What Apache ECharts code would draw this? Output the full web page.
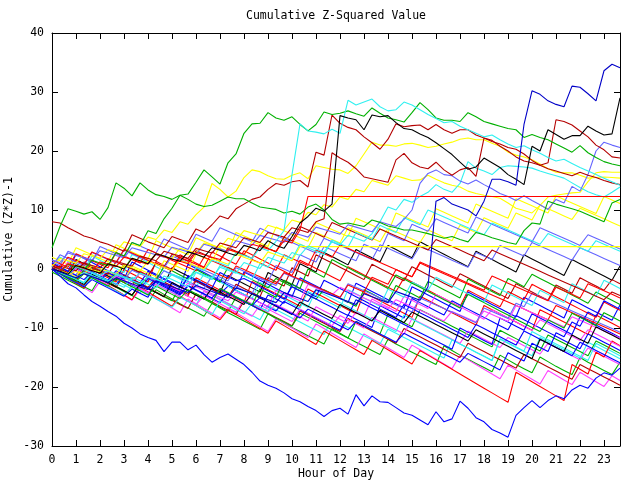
<!DOCTYPE html>
<html>
<head>
<meta charset="utf-8">
<script src="https://cdn.jsdelivr.net/npm/echarts@6/dist/echarts.min.js"></script>
<style>html,body{margin:0;padding:0;background:#fff}#c{width:640px;height:480px}</style>
</head>
<body>
<div id="c"></div>
<script>
// x grid: 72 samples, every 20 minutes from hour 0
const stepsPerHour = 3;
const nSteps = 72;
const hours = Array.from({length: nSteps}, (_, i) => i / stepsPerHour);
const yTicks = [-30, -20, -10, 0, 10, 20, 30, 40];

const n1 = [0,-0.7,-1.4, -2.0,1.2,0.5, -0.2,-0.9,-1.6, -2.3,-3.0,-0.4, -1.1,-1.8,-2.5, -3.2,-3.9,-4.6, -1.5,-2.2,-2.9, -3.6,-4.3,-5.0, -5.7,-2.1,-2.8, -3.5,-4.2,-4.9, -5.6,-6.3,-3.4, -4.1,-4.8,-5.5, -6.2,-6.9,-7.6, -4.0,-4.7,-5.4, -6.1,-6.8,-7.5, -8.2,-4.6,-5.3, -6.0,-6.7,-7.4, -8.1,-8.8,-9.5, -6.2,-6.9,-7.6, -8.3,-9.0,-9.7, -10.4,-6.9,-7.6, -8.3,-9.0,-9.7, -10.4,-11.1,-7.8, -8.5,-9.2,-9.9];
const n2 = [0,-0.8,-1.6, -2.3,-3.0,-3.7, -1.4,-2.1,-2.9, -3.7,-4.5,-5.2, -5.9,-3.5,-4.3, -5.1,-5.9,-6.6, -7.3,-8.0,-5.8, -6.6,-7.4,-8.1, -8.8,-9.5,-10.2, -7.6,-8.4,-9.2, -9.9,-10.6,-11.3, -12.0,-12.7,-10.1, -10.9,-11.7,-12.4, -13.1,-13.8,-14.5, -11.9,-12.7,-13.4, -14.1,-14.8,-15.5, -16.2,-13.0,-13.8, -14.6,-15.3,-16.0, -16.7,-17.4,-14.6, -15.4,-16.2,-16.9, -17.6,-14.9,-15.7, -16.5,-17.2,-17.9, -15.0,-15.8,-16.5, -17.2,-17.9,-15.8];
const n3 = [1.0,0.3,-0.4, 2.5,1.8,1.1, 0.4,-0.3,-1.0, -1.7,1.2,0.5, -0.2,-0.9,-1.6, -2.3,-3.0,0.8, 0.1,-0.6,-1.3, -2.0,-2.7,-3.4, -0.5,-1.2,-1.9, -2.6,-3.3,-4.0, -4.7,-1.5,-2.2, -2.9,-3.6,-4.3, -5.0,-5.7,-2.4, -3.1,-3.8,-4.5, -5.2,-5.9,-6.6, -3.0,-3.7,-4.4, -5.1,-5.8,-6.5, -7.2,-3.9,-4.6, -5.3,-6.0,-6.7, -7.4,-8.1,-4.8, -5.5,-6.2,-6.9, -7.6,-8.3,-5.2, -5.9,-6.6,-7.3, -8.0,-8.7,-6.1];
const n4 = [0,-0.8,-1.6, -2.4,-3.2,-4.0, -2.1,-2.9,-3.7, -4.5,-5.3,-3.4, -4.2,-5.0,-5.8, -6.6,-7.4,-5.1, -5.9,-6.7,-7.5, -8.3,-6.6,-7.4, -8.2,-9.0,-9.8, -10.6,-8.4,-9.2, -10.0,-10.8,-11.6, -9.3,-10.1,-10.9, -11.7,-12.5,-13.3, -11.0,-11.8,-12.6, -13.4,-14.2,-15.0, -12.9,-13.7,-14.5, -15.3,-16.1,-16.9, -14.6,-15.4,-16.2, -17.0,-17.8,-18.6, -16.3,-17.1,-17.9, -18.7,-19.5,-17.2, -18.0,-18.8,-19.6, -17.5,-18.3,-19.1, -19.9,-18.1,-18.9];
const n5 = [0.5,-0.2,-0.9, -1.6,-2.3,0.1, -0.6,-1.3,-2.0, -2.7,-3.4,-4.1, -1.9,-2.6,-3.3, -4.0,-4.7,-5.4, -6.1,-3.7,-4.4, -5.1,-5.8,-6.5, -7.2,-7.9,-8.6, -6.2,-6.9,-7.6, -8.3,-9.0,-9.7, -10.4,-11.1,-8.5, -9.2,-9.9,-10.6, -11.3,-12.0,-12.7, -10.2,-10.9,-11.6, -12.3,-13.0,-13.7, -14.4,-15.1,-12.0, -12.7,-13.4,-14.1, -14.8,-15.5,-11.9, -12.6,-13.3,-14.0, -14.7,-11.6,-12.3, -13.0,-13.7,-14.4, -15.1,-12.4,-13.1, -13.8,-14.5,-15.2];
const n6 = [0,-0.7,-1.4, -2.1,-2.8,-0.9, -1.6,-2.3,-3.0, -3.7,-4.4,-2.5, -3.2,-3.9,-4.6, -5.3,-6.0,-6.7, -4.2,-4.9,-5.6, -6.3,-7.0,-7.7, -5.4,-6.1,-6.8, -7.5,-8.2,-8.9, -9.6,-7.1,-7.8, -8.5,-9.2,-9.9, -10.6,-8.4,-9.1, -9.8,-10.5,-11.2, -11.9,-12.6,-10.1, -10.8,-11.5,-12.2, -12.9,-13.6,-14.3, -15.0,-12.6,-13.3, -14.0,-14.7,-15.4, -16.1,-16.8,-14.5, -15.2,-15.9,-16.6, -17.3,-18.0,-18.7, -16.2,-16.9,-17.6, -18.3,-19.0,-19.7];
const n7 = [2.0,1.4,0.8, 3.6,3.0,2.4, 1.8,1.2,4.1, 3.5,2.9,2.3, 1.7,4.8,4.2, 3.6,3.0,2.4, 5.3,4.7,4.1, 3.5,2.9,6.2, 5.6,5.0,4.4, 3.8,7.1,6.5, 5.9,5.3,4.7, 7.9,7.3,6.7, 6.1,5.5,8.6, 8.0,7.4,6.8, 6.2,9.5,8.9, 8.3,7.7,7.1, 10.2,9.6,9.0, 8.4,7.8,11.0, 10.4,9.8,9.2, 8.6,11.9,11.3, 10.7,10.1,9.5, 12.4,11.8,11.2, 10.6,10.0,9.4, 12.3,11.7,11.1];
const n8 = [0.3,-0.4,-1.1, 1.6,0.9,0.2, -0.5,-1.2,-1.9, 0.8,0.1,-0.6, -1.3,-2.0,-2.7, 0.2,-0.5,-1.2, -1.9,-2.6,-3.3, -4.0,-1.1,-1.8, -2.5,-3.2,-3.9, -0.6,-1.3,-2.0, -2.7,0.9,0.2, -0.5,2.8,2.1, 1.4,0.7,3.3, 2.6,1.9,1.2, 4.0,3.3,2.6, 1.9,4.6,3.9, 3.2,2.5,1.8, 1.1,0.4,3.0, 2.3,1.6,0.9, 0.2,-0.5,2.4, 1.7,1.0,0.3, -0.4,-1.1,1.6, 0.9,0.2,-0.5, -1.2,-1.9,0.5];
const n9 = [1.2,0.6,3.0, 2.4,1.8,1.2, 3.8,3.2,2.6, 2.0,4.5,3.9, 3.3,2.7,5.1, 4.5,3.9,3.3, 5.9,5.3,4.7, 7.0,6.4,5.8, 5.2,4.6,6.9, 6.3,5.7,5.1, 4.5,3.9,3.3, 2.7,5.2,4.6, 4.0,3.4,2.8, 2.2,1.6,4.1, 3.5,2.9,2.3, 1.7,3.9,3.3, 2.7,2.1,1.5, 0.9,0.3,2.8, 2.2,1.6,4.0, 3.4,2.8,2.2, 4.5,3.9,3.3, 2.7,2.1,1.5, 3.6,3.0,2.4, 1.8,1.2,0.6];
const n10 = [0,-0.7,-1.4, -2.1,0.6,-0.1, -0.8,-1.5,-2.2, -0.1,-0.8,-1.5, -2.2,1.3,0.6, -0.1,2.4,1.7, 1.0,0.3,2.9, 2.2,1.5,0.8, 3.1,2.4,1.7, 1.0,0.3,-0.4, -1.1,1.5,0.8, 0.1,-0.6,-1.3, -2.0,0.4,-0.3, -1.0,-1.7,-2.4, -3.1,-3.8,-1.5, -2.2,-2.9,-3.6, -4.3,-5.0,-5.7, -6.4,-3.6,-4.3, -5.0,-5.7,-6.4, -3.8,-4.5,-5.2, -2.6,-3.3,-4.0, -4.7,-5.4,-6.1, -6.8,-7.5,-8.2, -5.6,-6.3,-7.0];
const n11 = [-0.5,-1.2,-1.9, -2.6,-3.3,-1.0, -1.7,-2.4,-3.1, -3.8,-4.5,-2.6, -3.3,-4.0,-4.7, -5.4,-3.0,-3.7, -4.4,-5.1,-5.8, -6.5,-7.2,-4.8, -5.5,-6.2,-6.9, -7.6,-8.3,-9.0, -9.7,-7.5,-8.2, -8.9,-9.6,-10.3, -11.0,-11.7,-8.9, -9.6,-10.3,-11.0, -7.7,-8.4,-9.1, -9.8,-6.9,-7.6, -8.3,-9.0,-9.7, -10.4,-11.1,-11.8, -12.5,-13.2,-10.4, -11.1,-11.8,-12.5, -13.2,-13.9,-11.2, -11.9,-12.6,-13.3, -14.0,-14.7,-12.2, -12.9,-13.6,-14.3];
const n12 = [0.2,-0.5,-1.2, 0.9,0.2,-0.5, -1.2,-1.9,-0.3, -1.0,-1.7,-2.4, -0.4,-1.1,-1.8, -2.5,-3.2,-1.4, -2.1,-2.8,-3.5, -4.2,-2.9,-3.6, -4.3,-5.0,-5.7, -6.4,-7.1,-5.5, -6.2,-6.9,-7.6, -8.3,-9.0,-9.7, -10.4,-7.8,-8.5, -9.2,-9.9,-6.2, -6.9,-7.6,-8.3, -5.0,-5.7,-6.4, -7.1,-7.8,-5.4, -6.1,-6.8,-7.5, -8.2,-8.9,-9.6, -10.3,-7.9,-8.6, -9.3,-10.0,-10.7, -11.4,-12.1,-12.8, -13.5,-11.0,-11.7, -12.4,-13.1,-13.8];
const n13 = [0,-0.7,1.2, 0.5,-0.2,-0.9, -1.6,-2.3,-0.6, -1.3,-2.0,-2.7, -3.4,-1.8,-2.5, -3.2,-3.9,-4.6, -5.3,-3.8,-4.5, -5.2,-5.9,-6.6, -7.3,-8.0,-6.1, -6.8,-7.5,-8.2, -8.9,-6.8,-7.5, -8.2,-8.9,-9.6, -7.9,-8.6,-9.3, -10.0,-8.2,-8.9, -9.6,-10.3,-11.0, -8.4,-9.1,-9.8, -10.5,-11.2,-11.9, -12.6,-10.5,-11.2, -11.9,-12.6,-13.3, -11.6,-12.3,-13.0, -13.7,-14.4,-12.6, -13.3,-14.0,-14.7, -15.4,-13.4,-14.1, -14.8,-15.5,-16.2];
const n14 = [0.4,2.0,1.3, 0.6,-0.1,2.2, 1.5,0.8,0.1, -0.6,2.5,1.8, 1.1,0.4,-0.3, -1.0,-1.7,-2.4, -3.1,-0.8,-1.5, -2.2,-2.9,-3.6, -4.3,-5.0,-2.3, -3.0,-3.7,-4.4, -5.1,-5.8,-6.5, -3.6,-4.3,-5.0, -5.7,-6.4,-7.1, -7.8,-8.5,-9.2, -9.9,-10.6,-7.8, -8.5,-9.2,-9.9, -10.6,-11.3,-12.0, -12.7,-13.4,-14.1, -14.8,-15.5,-11.8, -12.5,-13.2,-13.9, -10.6,-11.3,-12.0, -12.7,-13.4,-14.1, -14.8,-15.5,-12.6, -13.3,-14.0,-14.7];
const n15 = [0.2,-0.5,-1.2, -1.9,-0.3,-1.0, -1.7,-2.4,-3.1, -1.0,-1.7,-2.4, -3.1,-1.5,-2.2, -2.9,-3.6,-4.3, -2.0,-2.7,-3.4, -4.1,-4.8,-2.6, -3.3,-4.0,-4.7, -1.5,-2.2,-2.9, 0.2,-0.5,-1.2, 2.4,1.7,1.0, 0.3,-0.4,-1.1, -1.8,0.8,0.1, -0.6,-1.3,-2.0, 0.4,-0.3,-1.0, -1.7,-2.4,-3.1, -0.8,-1.5,-2.2, -2.9,-3.6,-4.3, -5.0,-2.5,-3.2, -3.9,-4.6,-5.3, -2.7,-3.4,-4.1, -1.5,-2.2,-2.9, -3.6,-1.8,-2.5];
const n16 = [0.5,-0.1,-0.7, -1.3,0.9,0.3, -0.3,-0.9,-1.5, -2.1,0.5,-0.1, -0.7,-1.3,1.4, 0.8,0.2,-0.4, 2.5,1.9,1.3, 4.0,3.4,2.8, 2.2,4.7,4.1, 3.5,2.9,5.4, 4.8,4.2,3.6, 6.2,5.6,5.0, 4.4,7.0,6.4, 5.8,5.2,4.6, 6.9,6.3,5.7, 5.1,4.5,6.6, 6.0,5.4,4.8, 7.4,6.8,6.2, 8.7,8.1,7.5, 6.9,9.5,8.9, 8.3,10.8,10.2, 9.6,9.0,8.4, 10.3,9.7,9.1, 8.5,7.9,7.3];
const n17 = [0.8,0.2,-0.4, -1.0,1.1,0.5, -0.1,-0.7,-1.3, -1.9,-0.2,-0.8, -1.4,-2.0,-0.3, -0.9,-1.5,-2.1, -2.7,-3.3,-1.2, -1.8,-2.4,-3.0, -3.6,-4.2,-1.5, -2.1,0.6,0.0, -0.6,2.4,1.8, 1.2,3.8,3.2, 2.6,2.0,1.4, 4.2,3.6,3.0, 6.0,5.4,4.8, 7.6,7.0,6.4, 8.5,7.9,7.3, 6.7,6.1,8.8, 8.2,7.6,7.0, 6.4,5.8,5.2, 4.6,7.0,6.4, 5.8,5.2,4.6, 4.0,5.8,5.2, 4.6,4.0,3.4];
const n18 = [0,-0.8,-1.6, -2.4,-3.2,-1.2, -2.0,-2.8,-3.6, -4.4,-5.2,-3.1, -3.9,-4.7,-5.5, -6.3,-4.6,-5.4, -6.2,-7.0,-7.8, -8.6,-6.9,-7.7, -8.5,-9.3,-10.1, -10.9,-8.8,-9.6, -10.4,-11.2,-12.0, -12.8,-10.5,-11.3, -12.1,-12.9,-13.7, -14.5,-12.1,-12.9, -13.7,-14.5,-15.3, -16.1,-13.8,-14.6, -15.4,-16.2,-17.0, -17.8,-18.6,-19.4, -20.2,-21.0,-21.8, -22.6,-17.5,-18.3, -19.1,-19.9,-20.7, -21.5,-22.3,-16.2, -17.0,-17.8,-14.1, -14.9,-12.2,-13.0];
const n19 = [0,-0.7,-1.4, 0.2,-0.5,-1.2, -1.9,-0.6,-1.3, -2.0,-2.7,-3.4, -1.6,-2.3,-3.0, -3.7,-4.4,-2.9, -3.6,-4.3,-5.0, -5.7,-4.1,-4.8, -5.5,-6.2,-6.9, -4.4,-5.1,-5.8, -2.6,-3.3,-4.0, -4.7,-1.9,-2.6, -3.3,-4.0,-4.7, -5.4,-6.1,-6.8, -7.5,-8.2,-6.0, -6.7,-7.4,-8.1, -8.8,-9.5,-10.2, -10.9,-11.6,-9.4, -10.1,-10.8,-11.5, -12.2,-12.9,-10.5, -11.2,-11.9,-12.6, -13.3,-14.0,-14.7, -12.4,-13.1,-13.8, -14.5,-15.2,-15.9];
const n20 = [0,-0.7,-1.4, 0.1,-0.6,-1.3, -2.0,-2.7,-1.2, -1.9,-2.6,-3.3, -4.0,-2.6,-3.3, -4.0,-4.7,-5.4, -6.1,-4.5,-5.2, -5.9,-6.6,-7.3, -5.2,-5.9,-6.6, -7.3,-6.0,-6.7, -7.4,-8.1,-8.8, -6.4,-7.1,-7.8, -8.5,-9.2,-7.3, -8.0,-5.1,-5.8, -6.5,-7.2,-4.6, -5.3,-6.0,-6.7, -4.3,-5.0,-5.7, -6.4,-7.1,-7.8, -8.5,-6.9,-7.6, -8.3,-9.0,-9.7, -10.4,-8.6,-9.3, -10.0,-10.7,-11.4, -12.1,-10.3,-11.0, -11.7,-12.4,-13.1];
const n21 = [0.5,-0.2,-0.9, -1.6,-0.2,-0.9, -1.6,-2.3,-0.7, -1.4,-2.1,-2.8, -1.2,-1.9,0.4, -0.3,-1.0,-1.7, -0.1,-0.8,-1.5, -2.2,0.3,-0.4, -1.1,-1.8,-2.5, -3.2,-1.6,-2.3, -3.0,-3.7,-4.4, -5.1,-3.5,-4.2, -4.9,-5.6,-6.3, -3.5,-4.2,-4.9, -5.6,-2.8,-3.5, -4.2,-4.9,-2.1, -2.8,-3.5,-4.2, -4.9,-1.7,-2.4, -3.1,-3.8,-4.5, -1.6,-2.3,-3.0, -0.9,-1.6,-2.3, -3.0,-3.7,-4.4, -5.1,-5.8,-3.9, -4.6,-5.3,-6.0];
const n22 = [0,-0.8,-1.6, -2.3,-3.0,-1.5, -2.3,-3.0,-3.7, -4.5,-2.9,-3.6, -4.3,-5.1,-5.8, -6.5,-4.8,-5.5, -6.2,-7.0,-7.7, -5.4,-6.1,-6.9, -7.6,-5.8,-6.5, -7.2,-4.4,-5.1, -5.9,-6.6,-3.8, -4.5,-5.2,-5.9, -6.6,-3.5,-4.2, -4.9,-5.6,-6.3, -3.4,-4.1,-4.8, -2.2,-2.9,-3.6, -1.4,-2.1,-2.8, -3.5,-4.2,-4.9, -5.6,-2.7,-3.4, -4.1,-4.8,-5.5, -6.2,-3.6,-4.3, -5.0,-5.7,-2.5, -3.2,-3.9,-4.6, -1.9,-2.6,-3.3];
const n23 = [1.5,0.9,0.3, 2.6,2.0,1.4, 0.8,0.2,2.8, 2.2,1.6,1.0, 3.3,2.7,2.1, 1.5,0.9,0.3, -0.3,2.0,1.4, 0.8,0.2,-0.4, -1.0,1.6,1.0, 0.4,-0.2,2.4, 1.8,1.2,0.6, 3.2,2.6,2.0, 4.1,3.5,2.9, 2.3,1.7,1.1, 0.5,-0.1,-0.7, -1.3,1.0,0.4, -0.2,-0.8,-1.4, -2.0,-2.6,-3.2, -3.8,-4.4,-5.0, -5.6,-6.2,-6.8, -7.4,-8.0,-8.6, -6.2,-6.8,-7.4, -8.0,-8.6,-9.2, -9.8,-10.4,-11.0];
const n24 = [0,-0.8,-1.6, -2.3,-3.0,-1.8, -2.5,-3.2,-3.9, -4.6,-3.4,-4.1, -4.8,-1.9,-2.6, -3.3,-4.0,-1.1, -1.8,-2.5,-3.2, -0.6,-1.3,-2.0, -1.6,-2.3,-3.0, -3.7,-4.4,-5.1, -3.0,-3.7,-4.4, -5.1,-5.8,-6.5, -7.2,-7.9,-5.2, -5.9,-6.6,-7.3, -8.0,-8.7,-9.4, -10.1,-10.8,-11.5, -12.2,-12.9,-13.6, -10.0,-10.7,-11.4, -12.1,-12.8,-8.3, -9.0,-9.7,-10.4, -7.6,-8.3,-9.0, -9.7,-10.4,-11.1, -8.1,-8.8,-9.5, -10.2,-10.9,-11.6];
const n25 = [0.3,-0.3,-0.9, 0.4,-0.2,-0.8, -1.4,-0.3,-0.9, -1.5,-2.1,-0.7, -1.3,-1.9,-2.5, -3.1,-3.7,-2.4, -3.0,-3.6,-4.2, -4.8,-5.4,-3.9, -4.5,-5.1,-5.7, -6.3,-3.6,-4.2, -4.8,-5.4,-2.6, -3.2,-3.8,-4.4, -3.1,-3.7,-4.3, -4.9,-5.5,-6.1, -6.7,-5.2,-5.8, -6.4,-7.0,-7.6, -8.2,-8.8,-7.2, -7.8,-8.4,-9.0, -7.1,-7.7,-8.3, -8.9,-6.2,-6.8, -7.4,-8.0,-8.6, -9.2,-9.8,-8.1, -8.7,-9.3,-9.9, -10.5,-11.1,-11.7];
const n26 = [0.6,0.0,-0.6, 1.5,0.9,0.3, -0.3,-0.9,1.2, 0.6,0.0,-0.6, -1.2,1.0,0.4, 2.5,1.9,1.3, 3.1,2.5,1.9, 1.3,3.6,3.0, 2.4,1.8,4.1, 3.5,2.9,5.4, 4.8,7.2,6.6, 6.0,5.4,7.9, 7.3,6.7,6.1, 5.5,4.9,6.8, 6.2,5.6,5.0, 4.4,3.8,3.2, 5.0,4.4,3.8, 3.2,2.6,2.0, 1.4,3.2,2.6, 2.0,1.4,0.8, 0.2,-0.4,-1.0, -1.6,-2.2,-2.8, -3.4,-4.0,-4.6, -5.2,-3.9,-4.5];
const n27 = [0.2,-0.5,-1.2, -1.9,-2.6,-0.9, -1.6,-2.3,-3.0, -3.7,-4.4,-2.6, -3.3,-4.0,-4.7, -2.3,-3.0,-3.7, -4.4,-5.1,-3.2, -3.9,-4.6,-5.3, -6.0,-4.2,-4.9, -5.6,-6.3,-7.0, -7.7,-5.6,-6.3, -7.0,-7.7,-8.4, -6.0,-6.7,-7.4, -8.1,-8.8,-7.0, -7.7,-8.4,-9.1, -7.3,-8.0,-8.7, -9.4,-10.1,-10.8, -11.5,-12.2,-10.3, -11.0,-11.7,-12.4, -13.1,-13.8,-14.5, -15.2,-11.9,-12.6, -13.3,-14.0,-11.2, -11.9,-12.6,-9.8, -10.5,-11.2,-11.9];
const n28 = [0.4,2.4,1.8, 1.2,0.6,2.8, 2.2,1.6,1.0, 3.2,2.6,2.0, 1.4,0.8,0.2, 2.2,1.6,1.0, 0.4,-0.2,-0.8, -1.4,-2.0,0.2, -0.4,-1.0,-1.6, -2.2,-2.8,-0.7, -1.3,-1.9,-2.5, -3.1,-3.7,-4.3, -4.9,-2.5,-3.1, -3.7,-4.3,-4.9, -5.5,-6.1,-6.7, -7.3,-4.9,-5.5, -6.1,-6.7,-7.3, -7.9,-8.5,-9.1, -6.6,-7.2,-7.8, -8.4,-5.8,-6.4, -4.1,-4.7,-5.3, -5.9,-6.5,-7.1, -7.7,-8.3,-8.9, -9.5,-10.1,-10.7];
const n29 = [1.0,0.3,-0.4, -1.1,-1.8,-0.5, -1.2,-1.9,-2.6, -1.2,-1.9,-2.6, -3.3,-2.1,-2.8, -3.5,-4.2,-2.8, -3.5,-4.2,-4.9, -3.4,-4.1,-4.8, -5.5,-6.2,-4.8, -5.5,-6.2,-6.9, -7.6,-8.3,-6.8, -7.5,-8.2,-8.9, -9.6,-10.3,-8.9, -9.6,-10.3,-11.0, -11.7,-12.4,-10.9, -11.6,-12.3,-13.0, -13.7,-14.4,-15.1, -15.8,-14.3,-15.0, -15.7,-16.4,-17.1, -14.2,-14.9,-15.6, -12.6,-13.3,-14.0, -10.8,-11.5,-9.0, -9.7,-7.3,-8.0, -5.4,-6.1,-6.8];
const n30 = [0,-0.7,-1.4, -2.1,-0.8,-1.5, -2.2,-2.9,-1.6, -2.3,-3.0,-3.7, -4.4,-2.9,-3.6, -4.3,-5.0,-3.5, -4.2,-4.9,-5.6, -3.3,-4.0,-4.7, -5.4,-6.1,-3.4, -4.1,-4.8,-1.9, -2.6,-3.3,0.0, -0.7,-1.4,1.6, 0.9,0.2,-0.5, -1.2,-1.9,-2.6, -3.3,-1.0,-1.7, -2.4,-3.1,-3.8, -4.5,-5.2,-5.9, -6.6,-4.3,-5.0, -5.7,-6.4,-7.1, -7.8,-8.5,-9.2, -9.9,-10.6,-8.6, -9.3,-10.0,-7.5, -8.2,-8.9,-9.6, -7.4,-8.1,-8.8];
const n31 = [0.8,0.2,2.0, 1.4,0.8,2.9, 2.3,1.7,1.1, 3.3,2.7,2.1, 1.5,0.9,0.3, -0.3,2.0,1.4, 0.8,0.2,-0.4, -1.0,-1.6,0.5, -0.1,-0.7,-1.3, -1.9,-2.5,-0.6, -1.2,-1.8,-2.4, -3.0,-3.6,-4.2, -4.8,-2.7,-3.3, -3.9,-1.4,-2.0, -2.6,-0.1,-0.7, -1.3,1.2,0.6, 0.0,-0.6,-1.2, -1.8,-2.4,-3.0, -3.6,-1.2,-1.8, -2.4,-3.0,-3.6, -4.2,-4.8,-5.4, -3.1,-3.7,-4.3, -4.9,-2.5,-3.1, -3.7,-4.3,-4.9];
const n32 = [0,-0.6,-1.2, -1.8,-2.4,-0.7, -1.3,-1.9,-2.5, -3.1,-1.4,-2.0, -2.6,-3.2,-1.2, -1.8,-2.4,-3.0, -0.6,-1.2,-1.8, 0.6,0.0,-0.6, -1.2,-1.8,0.9, 0.3,2.9,2.3, 1.7,4.2,3.6, 3.0,2.4,4.9, 4.3,3.7,6.2, 5.6,5.0,7.4, 6.8,6.2,8.7, 8.1,7.5,10.0, 9.4,8.8,8.2, 7.6,7.0,6.4, 5.8,7.8,7.2, 6.6,6.0,5.4, 4.8,4.2,6.0, 5.4,4.8,4.2, 3.6,3.0,4.8, 4.2,3.6,3.0];

const greenTop = [0,-0.5,0.8,0.3,-0.2,1.5,1.0,0.6,2.8,2.2, 4.5,4.0,6.5,6.0,8.5,10.3,12.5,12.7,14.7,16.8, 15.6,14.4,18.0,19.5,23.0,24.6,24.7,26.5,25.6,25.2, 25.8,24.5,23.4,24.5,26.6,26.2,26.4,26.8,26.3,25.9, 27.3,26.4,25.6,25.3,24.9,26.5,28.2,27.0,25.6,25.2, 25.2,25.0,26.5,25.8,25.0,24.6,24.2,23.8,23.6,22.3, 22.8,22.3,21.9,21.2,20.5,19.8,20.9,19.7,18.9,18.2, 17.8,17.5];
const greenHigh = [3.6,7.2,10.2,9.8,9.3,9.7,8.4,10.4,14.6,13.7, 12.4,14.6,13.4,12.6,12.3,11.8,12.5,11.8,11.0,10.6, 10.8,11.5,12.2,11.9,11.9,11.2,10.5,10.3,10.1,9.5, 9.8,9.3,10.5,11.0,10.0,8.4,7.6,7.8,7.5,7.2, 8.3,7.9,7.3,7.0,6.6,6.6,6.3,6.0,5.6,5.2, 5.5,5.0,4.6,6.2,5.8,5.3,4.9,4.5,4.2,6.5, 7.8,7.6,11.5,11.0,10.6,10.2,9.8,9.2,8.6,8.0, 11.2,11.8];
const blackHigh = [0,-0.4,-0.9,0.6,0.2,-0.3,-0.7,0.9,0.5,0.0, 1.8,1.4,0.9,2.6,2.2,1.7,1.3,2.9,2.5,2.0, 3.6,3.2,2.7,2.3,4.0,3.6,3.1,4.8,4.0,3.5, 5.5,7.8,8.9,10.3,9.8,11.0, 26.0,25.6,25.3,23.6,26.1,25.8,26.0,24.8,23.8,23.6, 22.9,22.3,21.4,20.4,19.4,18.1,16.9,17.3,18.8,18.0, 17.2,16.0,15.2,14.3,20.8,20.0,23.6,22.8,22.0,22.6, 22.6,24.2,23.4,22.7,22.9,29.0];
const blueTop = [0,-0.5,-1.0,-1.5,-0.8,-1.3,-1.8,-2.3,-1.5,-2.0, -2.5,-3.0,-3.5,-2.0,-2.5,-3.0,-3.5,-4.0,-2.8,-3.3, -3.8,-4.3,-4.8,-3.2,-3.7,-4.2,-4.7,-5.2,-5.7,-4.0, -4.5,-5.0,-5.5,-3.5,-4.0,-4.5,-5.0,-5.5,-6.0,-4.2, -4.7,-5.2,-5.7,-3.8,-4.3,-4.8,-5.3,-3.0, 11.5,12.1,11.0,10.5,10.0,9.0,11.5,15.2,15.2,14.8, 14.2,24.5,30.2,29.6,28.5,27.9,27.5,31.0,30.8,29.7, 28.5,33.6,34.7,34.1];
const cyanTop = [0,-0.5,-1.0,0.4,-0.1,-0.6,-1.1,-0.3,-0.8,-1.3, -1.8,-0.7,-1.2,-1.7,-2.2,-0.9,-1.4,-1.9,0.2,-0.3, 1.5,1.0,0.5,2.8,2.3,1.8,3.6,3.1,4.7,6.5, 16.0,24.6,23.4,23.2,22.9,23.7,23.0,28.6,27.8,28.3, 28.8,27.5,26.8,27.0,28.3,27.8,27.0,26.2,25.5,24.8, 25.0,24.2,23.6,23.0,22.4,22.7,21.9,21.2,20.6,20.9, 20.2,19.6,18.9,18.3,18.6,17.9,17.2,16.6,16.0,15.4, 14.8,14.2];
const redFlat = [0,-0.4,0.9,0.5,0.1,-0.3,1.2,0.8,0.4,2.0, 1.6,1.2,0.8,2.5,2.1,1.7,1.3,0.9,2.8,2.4, 2.0,1.6,3.3,2.9,2.5,4.2,3.8,3.4,3.0,4.8, 4.4,6.6, 12.3,12.3,12.3,12.3,12.3,12.3,12.3,12.3, 12.3,12.3,12.3,12.3,12.3,12.3,12.3,12.3,12.3,12.3, 12.3,12.3,12.3,12.3,12.3,12.3,12.3,12.3,12.3,12.3, 12.3,12.3,12.3,12.3,12.3,12.3,12.3,12.3,12.3,12.3, 12.3,12.3];
const yellowFlat = [0,-0.5,-1.0,-0.4,-0.9,0.6,0.1,-0.4,-0.9,0.7, 0.2,-0.3,1.3,0.8,0.3,-0.2,1.5,1.0,0.5,0.0, 1.8,1.3,0.8,2.5,2.0,1.5,1.0,2.9,2.4,1.9, 1.4, 3.8,3.8,3.8,3.8,3.8,3.8,3.8,3.8,3.8, 3.8,3.8,3.8,3.8,3.8,3.8,3.8,3.8,3.8,3.8, 3.8,3.8,3.8,3.8,3.8,3.8,3.8,3.8,3.8,3.8, 3.8,3.8,3.8,3.8,3.8,3.8,3.8,3.8,3.8,3.8, 3.8,3.8];
const blueLow = [0,-1.2,-2.5,-3.2,-4.4,-5.5,-6.3,-7.2,-8.0,-9.2, -10.0,-11.0,-11.6,-12.1,-14.0,-12.4,-12.4,-13.7,-12.9,-14.5, -15.8,-15.0,-14.4,-15.3,-16.2,-17.5,-19.0,-19.7,-20.2,-21.0, -22.0,-22.5,-23.3,-24.0,-25.0,-24.0,-23.6,-24.6,-21.3,-23.2, -21.5,-22.5,-22.6,-23.5,-24.4,-24.8,-25.6,-26.4,-24.2,-25.9, -25.4,-22.4,-23.6,-25.2,-25.9,-27.2,-27.8,-28.5,-24.8,-23.5, -22.3,-23.5,-22.3,-21.5,-22.0,-20.5,-19.7,-20.2,-18.5,-17.6, -18.0,-16.8];
const darkRedA = [8.0,7.8,7.0,6.3,5.6,5.2,4.6,4.2,3.6,3.0, 5.8,5.2,4.6,4.1,3.6,5.5,5.0,4.5,6.8,6.2, 7.5,9.0,8.5,10.2,11.0,11.8, 12.2,13.5,14.5,14.2,14.8,15.0,13.9,19.8,19.3,26.1, 24.7,24.0,23.6,22.4,21.4,20.3,22.0,24.6,24.1,24.3, 24.4,23.6,24.5,23.6,23.0,23.6,23.6,22.7,22.2,21.6, 21.2,20.6,20.3,19.5,18.4,17.6,18.0,25.3,25.0,24.4, 23.4,22.4,21.0,20.2,19.0,18.8];
const darkRedB = [0,0.5,0.1,-0.3,1.0,0.6,0.2,1.7,1.3,0.9, 0.5,2.2,1.8,1.4,3.0,2.6,2.2,1.8,3.5,3.1, 2.7,4.4,4.0,3.6,5.3,4.9,4.5,6.2,5.8,5.4, 7.0,6.6,6.2,8.0,8.5, 19.7,18.8,18.1,17.0,15.6,15.3,15.0,14.7,18.5,19.6, 18.0,17.3,17.0,18.1,16.8,15.9,16.8,17.2,15.7,22.2, 21.8,20.8,20.0,19.0,18.3,18.0,17.6,17.0,16.6,16.2, 15.8,16.4,15.9,15.5,15.0,14.6,14.3];
const yellowA = [0.5,1.8,1.4,1.0,2.6,2.2,1.8,3.3,2.9,4.6, 4.2,3.8,5.4,5.0,6.6,6.2,8.0,7.6,9.2, 10.5,14.5,13.5,12.2,13.2,15.5,16.8,16.5,15.8,15.3, 15.2,15.9,16.3,15.3,17.5,17.2,16.9,16.8,16.2,17.5, 19.5,21.5,21.0,21.0,20.8,21.2,21.3,21.0,20.6,20.8, 21.2,21.5,22.0,22.2,21.9,21.9,21.3,20.8,19.8,19.3, 19.0,18.5,17.8,17.0,16.4,16.3,16.3,15.9,15.4,15.5, 15.6,15.5,15.4];
const yellowB = [0,-0.4,-0.8,0.7,0.3,-0.1,-0.5,1.0,0.6,0.2, 1.8,1.4,1.0,2.6,2.2,1.8,3.5,3.1,2.7,4.4, 4.0,3.6,5.2,4.8,6.5,6.1,5.7,7.4,7.0,6.6, 8.3,7.9,9.6,9.2,10.9,10.5,12.2,11.8,13.5,13.1, 15.0,14.6,14.2,15.8,15.4,15.0,15.1,15.9,15.2,14.6, 14.2,13.9,13.2,12.8,12.5,12.3,12.0,11.2,10.3,9.9, 9.5,10.8,12.2,12.5,12.7,12.9,13.0,14.8,16.3,16.5, 16.4,16.4];
const lightBlueA = [1.5,1.1,2.7,2.3,1.9,1.5,3.1,2.7,2.3,1.9, 3.6,3.2,2.8,2.4,2.0,3.7,3.3,2.9,2.5,4.2, 3.8,3.4,3.0,4.8,4.4,4.0,5.7,5.3,4.9,4.5, 6.2,5.8,5.4,7.1,6.7,6.3,5.9,7.5,7.1,6.7, 6.3,8.0,7.6,7.2,8.4, 10.0,14.5,16.2,16.8,16.0,15.8,14.9,14.4,15.1,14.3, 13.6,12.8,12.3,11.6,12.4,11.6,10.9,10.1,11.8,11.2, 14.0,13.2,16.0,20.0,21.5,21.0,20.6];
const cyanB = [0,-0.5,-1.0,-1.5,-0.6,-1.1,-1.6,-2.1,-1.0,-1.5, -2.0,-2.5,-1.3,-1.8,-2.3,-0.9,-1.4,-1.9,-0.5,-1.0, -1.5,0.3,-0.2,-0.7,1.1,0.6,0.1,2.0,1.5,1.0, 2.8,2.3,3.9,3.4,2.9,4.6,4.1,5.7,5.2,4.7, 6.0,8.0,10.5,10.0,11.8,11.3,12.3,13.0,14.3,13.5, 13.0,14.5,18.2,17.1,16.6,16.0,17.2,17.5,17.4,17.3, 17.1,16.6,16.2,15.8,15.4,14.6,13.8,13.1,12.6,12.2, 13.0,13.9];

const RED = '#ff0000', GREEN = '#00b000', BLUE = '#0000ff', MAG = '#ff40ff', CYAN = '#30f0f0',
      DRED = '#b40000', YEL = '#ffff00', BLK = '#000000', LBLUE = '#6464ff', DBLUE = '#0000c8';

const lines = [
  [n1, RED], [n2, GREEN], [n3, BLUE], [n4, MAG], [n5, CYAN], [n6, DRED], [n7, YEL], [n8, BLK],
  [n9, LBLUE], [n10, RED], [n11, GREEN], [n12, BLUE], [n13, MAG], [n14, CYAN], [n15, DRED], [n16, YEL],
  [n17, LBLUE], [n18, RED], [n19, BLUE], [n20, MAG], [n21, GREEN], [n22, CYAN], [n23, RED], [n24, BLUE],
  [n25, MAG], [n26, DRED], [n27, BLK], [n28, LBLUE], [n29, BLUE], [n30, GREEN], [n31, RED], [n32, CYAN],
  [yellowFlat, YEL], [yellowB, YEL], [yellowA, YEL], [cyanB, CYAN], [lightBlueA, LBLUE], [darkRedB, DRED],
  [darkRedA, DRED], [greenHigh, GREEN], [greenTop, GREEN], [cyanTop, CYAN], [redFlat, RED], [blackHigh, BLK],
  [blueLow, BLUE], [blueTop, DBLUE]
];

const bad = lines.map((l, k) => l[0].length !== nSteps ? k + ':' + l[0].length : null).filter(Boolean);

const FONT = 'DejaVu Sans Mono';
const series = lines.map(([vals, color]) => ({
  type: 'line',
  data: vals.map((v, i) => [hours[i], v]),
  showSymbol: false,
  symbol: 'none',
  silent: true,
  lineStyle: { color: color, width: 1.1 },
  xAxisIndex: 0, yAxisIndex: 0
}));

const chart = echarts.init(document.getElementById('c'), null, { renderer: 'canvas' });
const axisCommon = {
  axisLine: { show: true, onZero: false, lineStyle: { color: '#000', width: 1 } },
  axisTick: { show: true, inside: true, length: 6, lineStyle: { color: '#000' } },
  splitLine: { show: false }
};
chart.setOption({
  animation: false,
  backgroundColor: '#fff',
  graphic: [{
    type: 'text', x: 336, y: 16,
    style: { text: 'Cumulative Z-Squared Value' + (bad.length ? ' BAD ' + bad.join(',') : ''), font: '11.5px "' + FONT + '"', fill: '#000', textAlign: 'center', textVerticalAlign: 'middle' }
  }],
  grid: { left: 52, right: 20, top: 33, bottom: 34, containLabel: false, outerBoundsMode: 'none' },
  xAxis: [
    Object.assign({
      type: 'value', min: 0, max: hours[nSteps - 1], interval: 1, position: 'bottom',
      name: 'Hour of Day', nameLocation: 'middle', nameGap: 22, nameMoveOverlap: false,
      nameTextStyle: { fontFamily: FONT, fontSize: 11.5, color: '#000' },
      axisLabel: { margin: 8, fontFamily: FONT, fontSize: 11.5, color: '#000',
        formatter: v => (Math.abs(v - Math.round(v)) < 1e-6 ? String(Math.round(v)) : '') }
    }, axisCommon),
    Object.assign({
      type: 'value', min: 0, max: hours[nSteps - 1], interval: 1, position: 'top',
      axisLabel: { show: false }
    }, axisCommon)
  ],
  yAxis: [
    Object.assign({
      type: 'value', min: yTicks[0], max: yTicks[yTicks.length - 1], interval: 10, position: 'left',
      name: 'Cumulative (Z*Z)-1', nameLocation: 'middle', nameGap: 37, nameRotate: 90, nameMoveOverlap: false,
      nameTextStyle: { fontFamily: FONT, fontSize: 11.5, color: '#000' },
      axisLabel: { margin: 8, fontFamily: FONT, fontSize: 11.5, color: '#000' }
    }, axisCommon),
    Object.assign({
      type: 'value', min: yTicks[0], max: yTicks[yTicks.length - 1], interval: 10, position: 'right',
      axisLabel: { show: false }
    }, axisCommon)
  ],
  series: series
});
</script>
</body>
</html>
